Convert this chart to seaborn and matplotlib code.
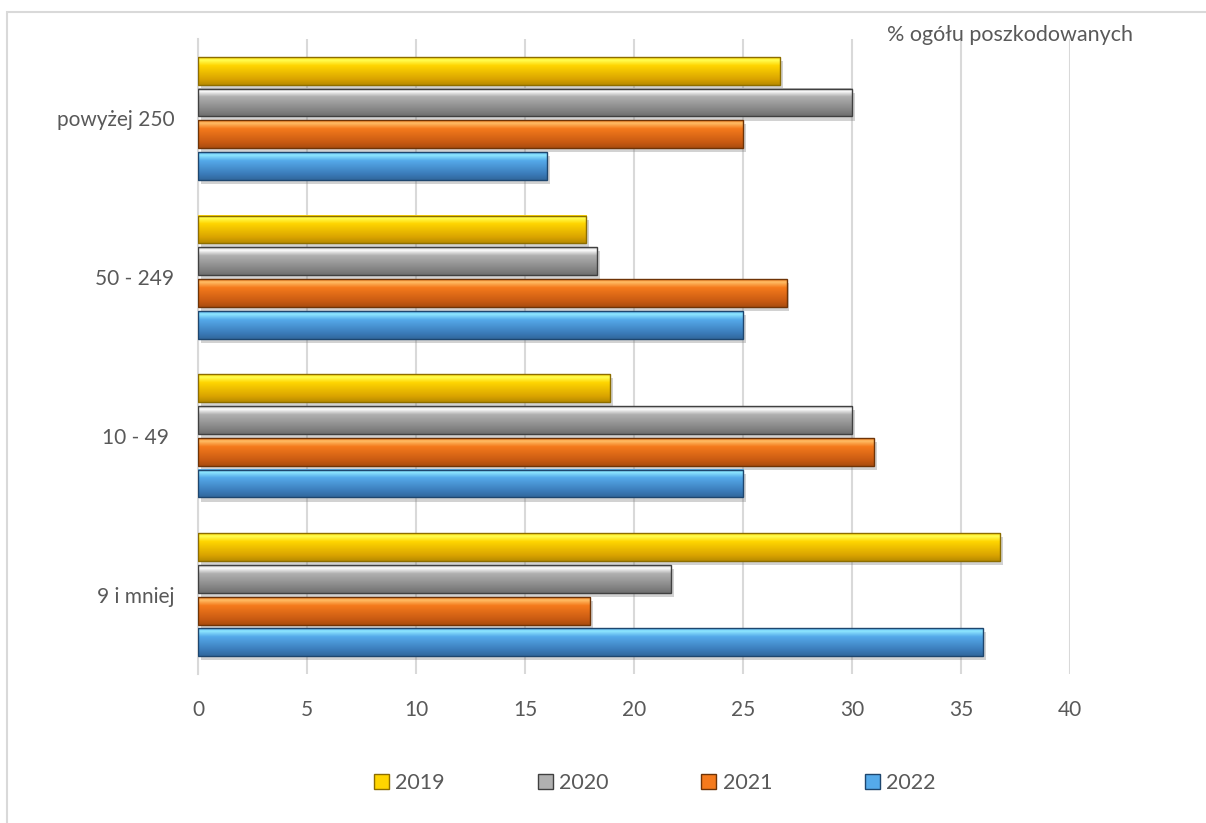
import numpy as np
import pandas as pd
import matplotlib
import matplotlib.pyplot as plt
import seaborn as sns
from matplotlib.patches import Patch, Rectangle
from matplotlib.colors import to_rgba
import matplotlib.patheffects as pe

matplotlib.use('Agg')

# Data (% of all injured, by company size)
categories = ['powyżej 250', '50 - 249', '10 - 49 ', '9 i mniej']
years = ['2019', '2020', '2021', '2022']
values_2019 = [26.7, 17.8, 18.9, 36.8]
values_2020 = [30.0, 18.3, 30.0, 21.7]
values_2021 = [25.0, 27.0, 31.0, 18.0]
values_2022 = [16.0, 25.0, 25.0, 36.0]
x_ticks = [0, 5, 10, 15, 20, 25, 30, 35, 40]

# colours: (highlight, base, dark, edge) for the bevel look
bar_styles = {
    '2019': ('#FFFF55', '#FFD500', '#D9A300', '#8C6D00'),
    '2020': ('#FFFFFF', '#B0B0B0', '#838383', '#404040'),
    '2021': ('#FFBE66', '#F57A1C', '#C85A12', '#6E3306'),
    '2022': ('#8FE8FF', '#55AAEA', '#3A7AB8', '#1E466E'),
}

df = pd.DataFrame({
    'kategoria': categories * 4,
    'rok': [y for y in years for _ in categories],
    'wartosc': values_2019 + values_2020 + values_2021 + values_2022,
})

sns.set_style('white')
plt.rcParams['font.family'] = ['Lato', 'DejaVu Sans']

fig = plt.figure(figsize=(12.06, 8.23), dpi=100)
ax = fig.add_axes([0.1642, 0.181, 0.7231, 0.7716])

palette = {y: bar_styles[y][1] for y in years}
sns.barplot(data=df, y='kategoria', x='wartosc', hue='rok', order=categories,
            hue_order=years, palette=palette, orient='h', width=0.8, gap=0.12,
            legend=False, ax=ax, zorder=3)


def gradient(style, n=64):
    hi, base, dark, _ = [np.array(to_rgba(c)) for c in style]
    stops = [(0.0, base), (0.1, hi), (0.3, base), (0.8, dark), (1.0, dark * 0.85)]
    t = np.linspace(0, 1, n)
    out = np.zeros((n, 1, 4))
    for ch in range(4):
        out[:, 0, ch] = np.interp(t, [s[0] for s in stops], [s[1][ch] for s in stops])
    out[:, :, 3] = 1
    return out


# bevel-like shading on every bar
for year, cont in zip(years, ax.containers):
    style = bar_styles[year]
    img = gradient(style)
    for bar in cont:
        x0, y0 = bar.get_x(), bar.get_y()
        w, h = bar.get_width(), bar.get_height()
        bar.set_edgecolor('none')
        bar.set_path_effects([pe.SimplePatchShadow(offset=(2, -3), shadow_rgbFace='#808080', alpha=0.35),
                              pe.Normal()])
        ax.imshow(img, extent=(x0, x0 + w, y0 + h, y0), aspect='auto',
                  interpolation='bilinear', zorder=4)
        ax.add_patch(Rectangle((x0, y0), w, h, facecolor='none',
                               edgecolor=style[3], linewidth=1.0, zorder=5))

ax.set_xlim(0, 40)
ax.set_ylim(len(categories) - 0.5, -0.5)
ax.set_xticks(x_ticks)
ax.set_xlabel('')
ax.set_ylabel('')
ax.grid(axis='x', color='#D9D9D9', linewidth=1.5, zorder=0)
ax.set_axisbelow(True)
for side in ['top', 'right', 'bottom']:
    ax.spines[side].set_visible(False)
ax.spines['left'].set_color('#D9D9D9')
ax.spines['left'].set_linewidth(1.5)
ax.tick_params(axis='x', length=0, pad=19, labelsize=15, labelcolor='#595959')
ax.tick_params(axis='y', length=0, pad=17, labelsize=15, labelcolor='#595959')

fig.text(0.7355, 0.958, '% ogółu poszkodowanych', fontsize=15.5, color='#595959',
         ha='left', va='center')

handles = [Patch(facecolor=bar_styles[y][1], edgecolor=bar_styles[y][3], label=y) for y in years]
fig.legend(handles=handles, loc='center', bbox_to_anchor=(0.543, 0.0486), ncol=4,
           frameon=False, fontsize=15.5, handlelength=0.7, handleheight=0.7,
           handletextpad=0.3, columnspacing=4.3, labelcolor='#595959')

# chart frame
fig.patches.append(Rectangle((7 / 1206, -0.05), 1.2, 1 - 12 / 823 + 0.05,
                             transform=fig.transFigure, facecolor='none',
                             edgecolor='#D9D9D9', linewidth=1.5))

plt.savefig('out.png', dpi=100)
print("Chart saved as 'out.png'")
